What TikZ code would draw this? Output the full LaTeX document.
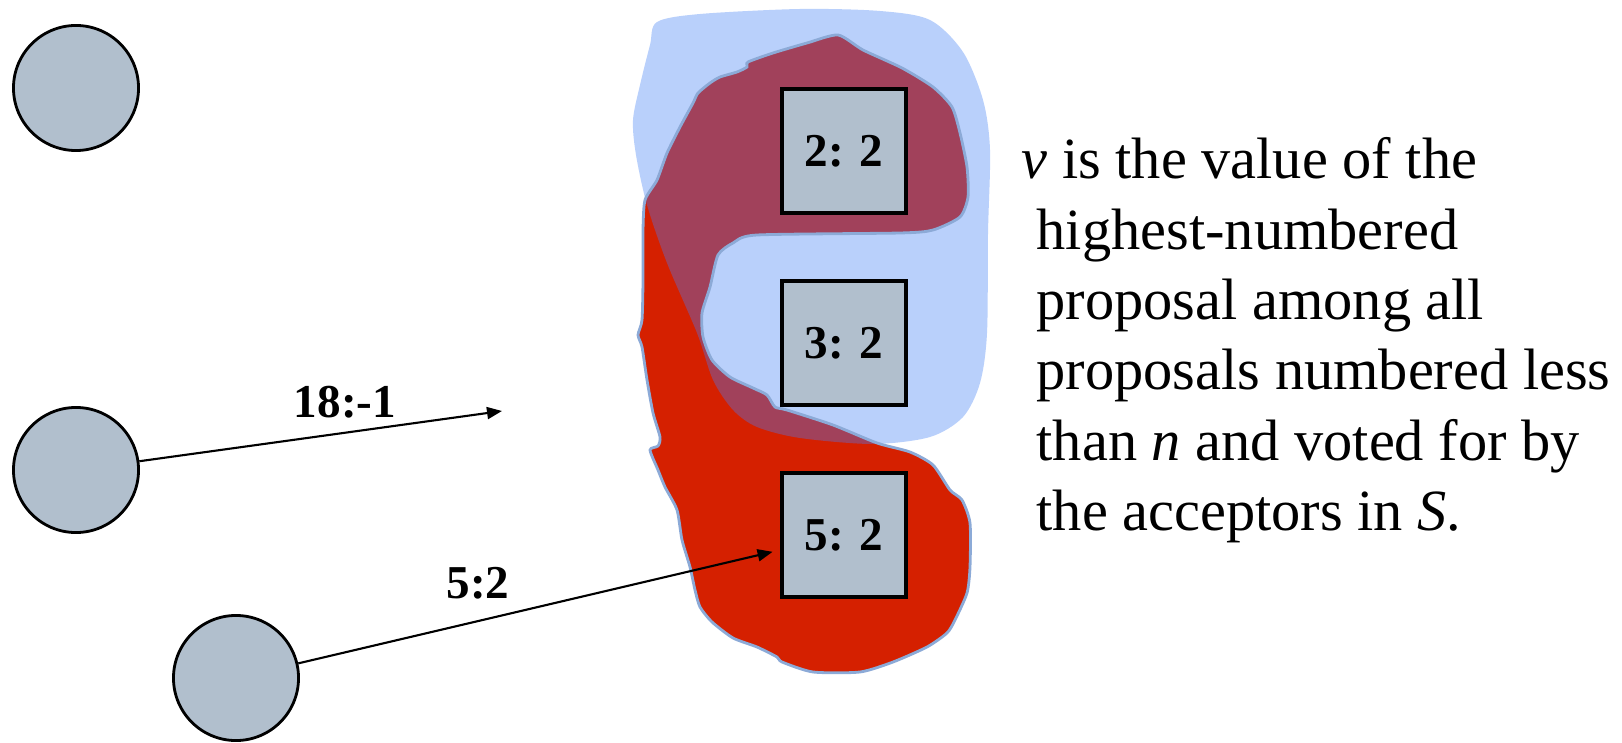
\documentclass[tikz,border=0pt]{standalone}
\usepackage{fontspec}
\setmainfont{Liberation Serif}
\usetikzlibrary{arrows.meta, positioning}

\definecolor{setblue}{RGB}{185,208,251}
\definecolor{quorumred}{RGB}{213,32,0}
\definecolor{overlapred}{RGB}{161,65,91}
\definecolor{slate}{RGB}{177,191,205}
\definecolor{rim}{RGB}{140,170,215}

\begin{document}
\begin{tikzpicture}
        [
        x=0.01cm, y=-0.01cm,
        acceptor/.style={draw, circle, fill=slate, line width=0.8pt, minimum size=1.25cm},
        vote/.style={draw, rectangle, fill=slate, line width=0.9pt, minimum size=1.24cm, font=\fontsize{13.4}{16}\selectfont\bfseries},
        msg/.style={font=\fontsize{13.4}{16}\selectfont\bfseries},
        arrow/.style={-{Triangle[length=0.15cm, width=0.12cm]}, line width=0.6pt}
        ]

        \useasboundingbox (0,0) rectangle (1622,743);

        \def\setshape{plot[smooth cycle, tension=0.5] coordinates {(657,22) (700,14) (800,9) (880,11) (930,20) (963,52) (983,100) (990,150) (988,233) (987,333) (980,383) (963,417) (930,437) (873,444) (800,438) (757,427) (733,410) (713,380) (697,333) (667,263) (647,205) (636,155) (633,120) (640,85) (650,45)}}
        \def\quorumshape{plot[smooth cycle, tension=0.4] coordinates {(838,35) (863,50) (902,68) (933,87) (952,107) (960,133) (967,167) (968,197) (960,217) (933,230) (900,233) (757,235) (733,243) (718,255) (710,287) (702,313) (703,337) (712,360) (730,377) (753,388) (767,395) (775,407) (787,410) (833,425) (877,443) (910,452) (933,465) (950,490) (962,500) (970,523) (970,567) (967,593) (955,620) (947,633) (927,647) (893,662) (860,672) (813,672) (782,662) (777,657) (757,647) (733,638) (712,622) (700,607) (695,590) (690,567) (682,540) (677,510) (665,487) (658,470) (650,450) (658,446) (660,437) (653,413) (647,380) (642,347) (638,335) (642,320) (643,280) (643,230) (645,200) (657,180) (667,153) (680,127) (693,103) (698,93) (710,83) (720,77) (737,72) (747,67) (748,62) (773,53) (807,43)}}

        \fill[setblue] \setshape;
        \fill[quorumred] \quorumshape;
        \begin{scope}
            \clip \setshape;
            \fill[overlapred] \quorumshape;
        \end{scope}
        \draw[rim, line width=0.8pt] \quorumshape;

        \node[acceptor] (c1) at (76,88) {};
        \node[acceptor] (c2) at (76,470) {};
        \node[acceptor] (c3) at (236,678) {};

        \node[vote] (b2) at (844,151) {2: 2};
        \node[vote] (b3) at (844,343) {3: 2};
        \node[vote] (b5) at (844,535) {5: 2};

        \coordinate (tip1) at (502,411);
        \node[msg] (lbl18) at (345,402) {18:-1};
        \node[msg] (lbl5) at (478,583) {5:2};

        \draw[arrow] (c2) -- (tip1);
        \draw[arrow, shorten >=0.08cm] (c3) -- (b5);

        \node[anchor=north west, inner sep=0, align=left, font=\fontsize{16.6}{20.0}\selectfont] (rule) at (1021,137)
            {\textit{v} is the value of the\\\hspace*{0.15cm}highest-numbered\\\hspace*{0.15cm}proposal among all\\\hspace*{0.15cm}proposals numbered less\\\hspace*{0.15cm}than \textit{n} and voted for by\\\hspace*{0.15cm}the acceptors in \textit{S}.};

    \end{tikzpicture}
\end{document}
